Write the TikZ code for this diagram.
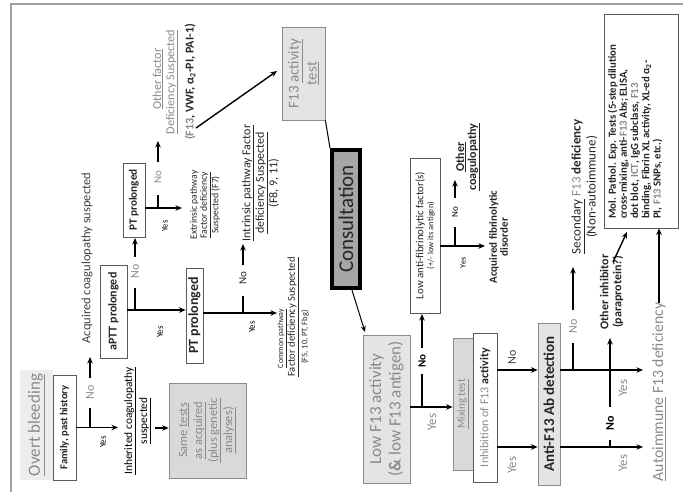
\documentclass[tikz,border=0pt]{standalone}
\usepackage{fontspec}
\setmainfont{Carlito}
\usepackage{graphicx}
\usetikzlibrary{arrows.meta}
\definecolor{tgray}{HTML}{8A8A8A}
\definecolor{tdark}{HTML}{262626}
\definecolor{tmid}{HTML}{404040}
\definecolor{bordD}{HTML}{5A5A5A}
\definecolor{bordG}{HTML}{8C8C8C}
\definecolor{fillA}{HTML}{D9D9D9}
\definecolor{fillB}{HTML}{E4E4E4}
\definecolor{bgl}{HTML}{EDEDED}
\definecolor{consfill}{HTML}{A6A6A6}
\definecolor{framec}{HTML}{A0A0A0}
\newcommand{\fs}[2]{\fontsize{#1}{#2}\selectfont}
\begin{document}
\begin{tikzpicture}[x=1pt,y=-1pt,
  ln/.style={line width=1.4pt},
  arr/.style={line width=1.4pt,-{Stealth[length=6.5pt,width=5.5pt]}},
  txt/.style={rotate=90,inner sep=0pt,align=center,text=tdark},
  wbox/.style={rotate=90,draw=bordD,line width=0.8pt,fill=white,inner sep=0pt,align=center,text=tdark},
  gbox/.style={rotate=90,draw=bordG,line width=0.8pt,inner sep=0pt,align=center,text=tgray},
  lbl/.style={rotate=90,inner sep=0pt}]
\useasboundingbox (0,0) rectangle (683,492);
\draw[framec,line width=1.5pt] (11,492) -- (11,4) -- (683,4);

% ---------- nodes ----------
\node[rotate=90,fill=bgl,minimum width=110,minimum height=33,inner sep=0pt,text=tgray,font=\fs{17}{20}] (overt) at (36.5,425) {\underline{Overt bleeding}};
\node[wbox,minimum width=105,minimum height=23,font=\bfseries\fs{10.5}{12}] (fam) at (64.5,427.5) {Family, past history};
\node[txt,text=tmid,font=\fs{12.5}{14}] (acq) at (87,258) {Acquired coagulopathy suspected};
\node[txt,text=black,font=\fs{11.4}{15}] (inh) at (137.5,421) {\underline{Inherited coagulopathy}\\\underline{suspected}};
\node[gbox,fill=fillA,minimum width=95,minimum height=77,font=\fs{12.5}{15}] (same) at (207.5,430.5) {Same \underline{tests}\\\underline{as acquired}\\\underline{(plus genetic}\\\underline{analyses)}};
\node[wbox,minimum width=93,minimum height=27,font=\bfseries\fs{12}{14}] (aptt) at (113.5,311.5) {aPTT prolonged};
\node[wbox,minimum width=74,minimum height=22,font=\bfseries\fs{11.2}{13}] (pt1) at (134,200) {PT prolonged};
\node[wbox,minimum width=95,minimum height=17,font=\bfseries\fs{14}{16}] (pt2) at (194.5,315.5) {PT prolonged};
\node[txt,text=tgray,font=\fs{12.2}{14}] (oth1) at (158,79) {\underline{Other factor}};
\node[txt,text=tgray,font=\fs{12.2}{14}] (oth2) at (172,82) {\underline{Deficiency Suspected}};
\node[txt,font=\bfseries\fs{12}{14}] (oth3) at (190,82) {\textcolor{tgray}{(F13}, VWF, α\textsubscript{2}-PI, PAI-1)};
\node[txt,font=\fs{9.7}{10}] (ext) at (205,205) {Extrinsic pathway\\\underline{Factor deficiency}\\Suspected (F7)};
\node[txt,font=\fs{12}{13.5}] (intr) at (260.5,183) {\underline{Intrinsic pathway Factor}\\\underline{deficiency Suspected}\\(F8, 9, 11)};
\node[txt,font=\fs{8}{10}] (comm1) at (282,338.5) {\underline{Common pathway}};
\node[txt,font=\fs{10.6}{12}] (comm2) at (293,317) {\underline{Factor deficiency Suspected}};
\node[txt,font=\fs{8.4}{10}] (comm3) at (305,337) {(F5, 10, PT, Fbg)};
\node[gbox,fill=fillB,minimum width=93,minimum height=43,font=\fs{15}{18}] (f13t) at (303.5,73.5) {F13 \underline{activity}\\\underline{test}};
\node[rotate=90,draw=black,line width=4pt,fill=consfill,minimum width=138,minimum height=28,inner sep=0pt,text=tdark,font=\fs{21}{24}] (cons) at (346,219) {Consultation};
\node[gbox,fill=fillB,minimum width=148,minimum height=47,font=\fs{17}{19.5}] (lowf) at (386.5,409) {Low F13 activity\\(\textbf{\&} low F13 antigen)};
\node[wbox,minimum width=155,minimum height=30,font=\fs{10.9}{10}] (lowa) at (425,235.5) {Low anti-fibrinolytic factor(s)\\{\fs{8.5}{10}(+/- low its antigen)}};
\node[txt,font=\bfseries\fs{12}{12}] (ocoag) at (468,157) {\underline{Other}\\\underline{coagulopathy}};
\node[txt,font=\bfseries\fs{11}{11}] (afib) at (498.5,237) {Acquired fibrinolytic\\disorder};
\node[gbox,fill=fillA,minimum width=132,minimum height=20,font=\fs{11}{13}] (mix) at (463,404) {\underline{Mixing test}};
\node[wbox,minimum width=149,minimum height=24,font=\fs{12}{14}] (inhib) at (485,407.5) {\textcolor{tgray}{Inhibition of F13} \textbf{activity}};
\node[gbox,fill=fillB,minimum width=162,minimum height=22,text=tdark,font=\bfseries\fs{15}{17}] (anti) at (549,404) {Anti-F13 Ab detection};
\node[txt,font=\fs{13}{15}] (sec) at (584.5,187) {\underline{Secondary} \textcolor{tgray}{F13} \textbf{deficiency}\\(Non-autoimmune)};
\node[txt,font=\bfseries\fs{12}{13}] (oinh) at (611.5,292) {Other inhibitor\\(paraprotein?)};
\node[txt,text=tgray,font=\fs{15.7}{18}] (auto) at (659,392) {\underline{Autoimmune} F13 deficiency};
\node[wbox,minimum width=214,minimum height=74] (mol) at (641,121) {};
\node[txt,anchor=west,align=left,font=\bfseries\fs{10.8}{11.2}] (molt) at (635,219) {Mol. Pathol. Exp. Tests (5-step dilution\\cross-mixing, anti-\textcolor{tgray}{F13} Abs; ELISA,\\dot blot, \textcolor{tgray}{ICT}, IgG subclass, \textcolor{tgray}{F13}\\binding, Fibrin XL activity, XL-ed α\textsubscript{2}-\\PI, \textcolor{tgray}{F13} SNPs, etc.)};

% ---------- labels ----------
\node[lbl,text=tgray,font=\fs{12}{14}] (no1) at (90,392) {No};
\node[lbl,font=\fs{9}{11}] (yes1) at (103,442) {Yes};
\node[lbl,text=tgray,font=\fs{12}{14}] (no2) at (135,271) {No};
\node[lbl,font=\fs{9}{11}] (yes2) at (160,332) {Yes};
\node[lbl,text=tgray,font=\fs{11}{13}] (no3) at (158,177) {No};
\node[lbl,font=\fs{8.5}{10}] (yes3) at (165,226) {Yes};
\node[lbl,text=tdark,font=\fs{11}{13}] (no4) at (243,278) {No};
\node[lbl,font=\fs{9}{11}] (yes4) at (252,327) {Yes};
\node[lbl,font=\bfseries\fs{11}{13}] (no5) at (422,361) {No};
\node[lbl,text=tgray,font=\fs{13}{15}] (yes5) at (432,422) {Yes};
\node[lbl,font=\fs{9}{11}] (no6) at (455,212) {No};
\node[lbl,font=\fs{8}{10}] (yes6) at (463,263) {Yes};
\node[lbl,text=tmid,font=\fs{12}{14}] (no7) at (512,357) {No};
\node[lbl,text=tgray,font=\fs{13}{15}] (yes7) at (512,465) {Yes};
\node[lbl,text=tgray,font=\fs{12}{14}] (no8) at (573,326) {No};
\node[lbl,text=tgray,font=\fs{13}{15}] (yes8) at (623,388) {Yes};
\node[lbl,font=\bfseries\fs{12}{14}] (no9) at (610,423) {No};
\node[lbl,text=tgray,font=\fs{13}{15}] (yes9) at (623,463) {Yes};

% ---------- coordinates ----------
\coordinate (c1) at (118,427.5);
\coordinate (c1a) at (90,427.5); \coordinate (c1b) at (90,408);
\coordinate (c1c) at (90,378);   \coordinate (c1d) at (90,357);
\coordinate (c2a) at (155,428);
\coordinate (c3a) at (135,310);  \coordinate (c3b) at (135,288);
\coordinate (c3c) at (135,257);  \coordinate (c3d) at (135,238);
\coordinate (c4) at (182,208);
\coordinate (c4a) at (158,208);  \coordinate (c4b) at (158,195);
\coordinate (c4c) at (158,162);  \coordinate (c4d) at (158,141);
\coordinate (c5a) at (196,128);  \coordinate (c5b) at (277,71);
\coordinate (c6) at (277,313);
\coordinate (c6a) at (243,313);  \coordinate (c6b) at (243,296);
\coordinate (c6c) at (243,265);  \coordinate (c6d) at (243,244);
\coordinate (c7) at (365,332);
\coordinate (c8a) at (422,407);  \coordinate (c8b) at (422,374);
\coordinate (c8c) at (422,348);  \coordinate (c8d) at (422,314);
\coordinate (c9) at (485,246);
\coordinate (c9a) at (455,246);  \coordinate (c9b) at (455,227);
\coordinate (c9c) at (455,198);  \coordinate (c9d) at (455,180);
\coordinate (c10) at (643,370);  \coordinate (c11) at (643,447);
\coordinate (c10a) at (573,370); \coordinate (c10b) at (573,343);
\coordinate (c10c) at (573,310); \coordinate (c10d) at (573,267);
\coordinate (c11a) at (610,447); \coordinate (c11b) at (610,440);
\coordinate (c11c) at (610,407); \coordinate (c11d) at (610,338);
\coordinate (c12a) at (613,262); \coordinate (c12b) at (627,232);

% ---------- connectors ----------
\draw[arr] (fam.south) -- (c1);
\draw[ln] (c1a) -- (c1b);
\draw[arr] (c1c) -- (c1d);
\draw[arr] (c2a) -- (same.north |- c2a);
\draw[arr] (aptt.south |- c3a) -- (pt2.north |- c3a);
\draw[ln] (c3a) -- (c3b);
\draw[arr] (c3c) -- (c3d);
\draw[arr] (pt1.south |- c4) -- (c4);
\draw[ln] (c4a) -- (c4b);
\draw[arr] (c4c) -- (c4d);
\draw[arr] (c5a) -- (c5b);
\draw[arr] (pt2.south |- c6) -- (c6);
\draw[ln] (c6a) -- (c6b);
\draw[arr] (c6c) -- (c6d);
\draw[line width=1pt] (f13t.south west) -- (cons.north east);
\draw[line width=1pt,-{Stealth[length=6pt,width=5pt]}] ([xshift=6pt]cons.west) -- (c7);
\draw[arr] (lowf.south |- c8a) -- (mix.north |- c8a);
\draw[ln] (c8a) -- (c8b);
\draw[arr] (c8c) -- (c8d);
\draw[arr] (lowa.south |- c9) -- (c9);
\draw[ln] (c9a) -- (c9b);
\draw[arr] (c9c) -- (c9d);
\draw[arr] (inhib.south |- c10) -- (anti.north |- c10);
\draw[arr] (inhib.south |- c11) -- (anti.north |- c11);
\draw[arr] (anti.south |- c10) -- (c10);
\draw[arr] (anti.south |- c11) -- (c11);
\draw[ln] (c10a) -- (c10b);
\draw[arr] (c10c) -- (c10d);
\draw[ln] (c11a) -- (c11b);
\draw[arr] (c11c) -- (c11d);
\draw[arr] (c12a) -- (c12b);
\draw[arr] (auto.east) -- (auto.east |- mol.west);
\end{tikzpicture}
\end{document}
